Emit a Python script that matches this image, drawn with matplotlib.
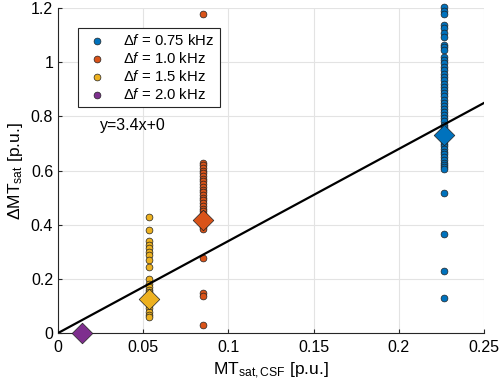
import matplotlib
matplotlib.use("Agg")
import matplotlib.pyplot as plt

plt.rcParams['font.family'] = ['Liberation Sans', 'DejaVu Sans']
plt.rcParams['mathtext.fontset'] = 'custom'
plt.rcParams['mathtext.rm'] = 'Liberation Sans'
plt.rcParams['mathtext.it'] = 'Liberation Sans:italic'
plt.rcParams['mathtext.bf'] = 'Liberation Sans:bold'

labels = ['$\\Delta$$\\mathit{f}$ = 0.75 kHz', '$\\Delta$$\\mathit{f}$ = 1.0 kHz',
          '$\\Delta$$\\mathit{f}$ = 1.5 kHz', '$\\Delta$$\\mathit{f}$ = 2.0 kHz']
colors = ['#0072BD', '#D95319', '#EDB120', '#7E2F8E']

x_blue = 0.2265
y_blue = [1.205, 1.19, 1.178, 1.137, 1.125, 1.11, 1.094, 1.063, 1.057, 1.045, 1.02, 1.008,
          0.996, 0.983, 0.97, 0.958, 0.945, 0.933, 0.92, 0.91, 0.898, 0.886, 0.874, 0.862,
          0.85, 0.84, 0.828, 0.816, 0.805, 0.793, 0.782, 0.77, 0.76, 0.75, 0.74, 0.72,
          0.71, 0.70, 0.69, 0.68, 0.67, 0.66, 0.65, 0.64, 0.63, 0.62, 0.614, 0.605,
          0.516, 0.366, 0.23, 0.13]
x_orange = 0.0851
y_orange = [1.178, 0.627, 0.62, 0.61, 0.60, 0.59, 0.58, 0.57, 0.56, 0.55, 0.54, 0.53,
            0.52, 0.51, 0.50, 0.49, 0.48, 0.47, 0.46, 0.45, 0.44, 0.43, 0.42, 0.41,
            0.40, 0.39, 0.385, 0.276, 0.147, 0.137, 0.03]
x_yellow = 0.0535
y_yellow = [0.427, 0.38, 0.34, 0.327, 0.313, 0.30, 0.288, 0.27, 0.243, 0.20, 0.183,
            0.171, 0.159, 0.15, 0.14, 0.13, 0.115, 0.103, 0.091, 0.079, 0.066, 0.058]
x_purple = 0.014
y_purple = [0.0]

mean_x = [x_blue, x_orange, x_yellow, x_purple]
mean_y = [0.731, 0.417, 0.124, 0.0]

slope = 3.4
intercept = 0.0
line_x = [0, 0.25]

fig = plt.figure(figsize=(5, 3.9), dpi=100)
ax = fig.add_axes([0.116, 0.146, 0.852, 0.833])

groups = [(x_blue, y_blue), (x_orange, y_orange), (x_yellow, y_yellow), (x_purple, y_purple)]
for i, (gx, gy) in enumerate(groups):
    if i < 3:
        ax.scatter([gx] * len(gy), gy, s=24, c=colors[i], edgecolors='#222222',
                   linewidths=0.5, zorder=3, label=labels[i], clip_on=False)
    else:
        ax.scatter([], [], s=24, c=colors[i], edgecolors='#222222', linewidths=0.5,
                   label=labels[i])

ax.plot(line_x, [slope * v + intercept for v in line_x], color='black', lw=1.6, zorder=4)

for i in range(4):
    ax.scatter([mean_x[i]], [mean_y[i]], marker='D', s=110, c=colors[i],
               edgecolors='#222222', linewidths=0.5, zorder=5, clip_on=False)

ax.text(0.0245, 0.768, 'y=3.4x+0', fontsize=11.5, va='center', ha='left')

ax.set_xlim(0, 0.25)
ax.set_ylim(0, 1.2)
ax.set_xticks([0, 0.05, 0.1, 0.15, 0.2, 0.25])
ax.set_xticklabels(['0', '0.05', '0.1', '0.15', '0.2', '0.25'])
ax.set_yticks([0, 0.2, 0.4, 0.6, 0.8, 1.0, 1.2])
ax.set_yticklabels(['0', '0.2', '0.4', '0.6', '0.8', '1', '1.2'])
ax.grid(True, color='#e3e3e3', lw=0.8)
ax.set_axisbelow(True)
for s in ['top', 'right']:
    ax.spines[s].set_visible(False)
for s in ['left', 'bottom']:
    ax.spines[s].set_color('#262626')
    ax.spines[s].set_linewidth(0.8)
ax.tick_params(direction='in', length=3, labelsize=11.5, colors='#262626', labelcolor='black')
ax.tick_params(axis='x', pad=5)

ax.set_xlabel('MT$_{\\mathrm{sat,CSF}}$ [p.u.]', fontsize=12.5)
ax.set_ylabel('$\\Delta$MT$_{\\mathrm{sat}}$ [p.u.]', fontsize=12.5)

leg = ax.legend(loc='upper left', bbox_to_anchor=(0.047, 0.94), fontsize=10.7,
                frameon=True, fancybox=False, edgecolor='#262626', framealpha=1,
                borderpad=0.35, labelspacing=0.2, handletextpad=0.9, borderaxespad=0,
                handlelength=1.8)
leg.get_frame().set_linewidth(0.8)

fig.savefig('out.png', dpi=100)
